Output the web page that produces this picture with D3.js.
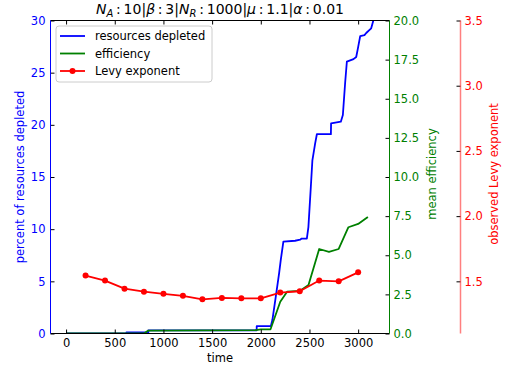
<!DOCTYPE html>
<html><head><meta charset="utf-8">
<script src="https://cdn.jsdelivr.net/npm/d3@7"></script>
<style>body{margin:0;background:#fff}svg{display:block;font-family:"DejaVu Sans",sans-serif}</style>
</head><body>
<svg id="c" width="514" height="372"></svg>
<script>
// ---- data ----
const blueTime = [0, 620, 620, 845, 845, 1958, 1958, 2103, 2119, 2154, 2188, 2205, 2232, 2352, 2404, 2420, 2473, 2489, 2514, 2530, 2558, 2576, 2720, 2722, 2822, 2843, 2867, 2884, 2952, 2980, 2997, 3021, 3065, 3083, 3117, 3134, 3162];
const blueValue = [0, 0, 0.1, 0.1, 0.3, 0.3, 0.7, 0.7, 1.29, 3.53, 5.77, 7.04, 8.8, 8.89, 8.99, 9.1, 9.1, 10.2, 14.07, 16.6, 18.2, 19.1, 19.1, 20.15, 20.3, 20.94, 24.1, 26.05, 26.3, 26.5, 27.3, 28.5, 28.6, 28.8, 29.1, 29.25, 30.2];
const greenTime = [0, 800, 845, 1950, 2000, 2100, 2200, 2270, 2400, 2490, 2600, 2700, 2800, 2900, 3000, 3100];
const greenValue = [0, 0, 0.19, 0.22, 0.27, 0.27, 2.03, 2.67, 2.72, 3.1, 5.4, 5.22, 5.4, 6.79, 7.0, 7.45];
const redTime = [200, 400, 600, 800, 1000, 1200, 1400, 1600, 1800, 2000, 2200, 2400, 2600, 2800, 3000];
const redValue = [1.544, 1.506, 1.444, 1.421, 1.404, 1.389, 1.362, 1.373, 1.370, 1.370, 1.414, 1.424, 1.506, 1.50, 1.569];
const xTicks = [0, 500, 1000, 1500, 2000, 2500, 3000];
const leftTicks = [0, 5, 10, 15, 20, 25, 30];
const greenTicks = [0, 2.5, 5, 7.5, 10, 12.5, 15, 17.5, 20];
const redTicks = [1.5, 2.0, 2.5, 3.0, 3.5];
const seriesNames = ["resources depleted", "efficiency", "Levy exponent"];

// ---- layout ----
const L = 50.5, R = 389.5, T = 20.5, B = 333.5, RED_X = 460.5;
const FS = 11.5;
const BLUE = "#0000ff", GREEN = "#008000", RED = "#ff0000";
const svg = d3.select("#c");

const x = d3.scaleLinear().domain([-160, 3322]).range([L, R]);
const yL = d3.scaleLinear().domain([0, 30]).range([B, T]);
const yG = d3.scaleLinear().domain([0, 20]).range([B, T]);
const yR = d3.scaleLinear().domain([1.1, 3.5]).range([B, T]);

svg.append("defs").append("clipPath").attr("id", "clip")
  .append("rect").attr("x", L).attr("y", T).attr("width", R - L).attr("height", B - T);

const plot = svg.append("g").attr("clip-path", "url(#clip)");
const mk = (tArr, vArr) => tArr.map((t, i) => [t, vArr[i]]);

plot.append("path").datum(mk(blueTime, blueValue))
  .attr("d", d3.line().x(d => x(d[0])).y(d => yL(d[1])))
  .attr("fill", "none").attr("stroke", BLUE).attr("stroke-width", 1.8).attr("stroke-linejoin", "round");
plot.append("path").datum(mk(greenTime, greenValue))
  .attr("d", d3.line().x(d => x(d[0])).y(d => yG(d[1])))
  .attr("fill", "none").attr("stroke", GREEN).attr("stroke-width", 1.8).attr("stroke-linejoin", "round");
const redData = mk(redTime, redValue);
plot.append("path").datum(redData)
  .attr("d", d3.line().x(d => x(d[0])).y(d => yR(d[1])))
  .attr("fill", "none").attr("stroke", RED).attr("stroke-width", 1.8).attr("stroke-linejoin", "round");
plot.selectAll("circle.r").data(redData).enter().append("circle")
  .attr("cx", d => x(d[0])).attr("cy", d => yR(d[1])).attr("r", 3).attr("fill", RED);

// ---- axes ----
function styleAxis(g, color) {
  g.select(".domain").remove();
  g.selectAll(".tick line").attr("stroke", "#000").attr("stroke-width", 1);
  g.selectAll(".tick text").attr("fill", color).attr("font-size", FS).attr("font-family", "DejaVu Sans");
}
const xb = svg.append("g").attr("transform", `translate(0,${B})`)
  .call(d3.axisBottom(x).tickValues(xTicks).tickSize(-4).tickPadding(5).tickFormat(d3.format("d")));
styleAxis(xb, "#000");
xb.selectAll(".tick text").attr("dy", "0.71em").attr("y", 5);
const xt = svg.append("g").attr("transform", `translate(0,${T})`)
  .call(d3.axisTop(x).tickValues(xTicks).tickSize(-4).tickFormat(""));
styleAxis(xt, "#000");

const al = svg.append("g").attr("transform", `translate(${L},0)`)
  .call(d3.axisLeft(yL).tickValues(leftTicks).tickSize(-4).tickPadding(5).tickFormat(d3.format("d")));
styleAxis(al, BLUE);
const ag = svg.append("g").attr("transform", `translate(${R},0)`)
  .call(d3.axisRight(yG).tickValues(greenTicks).tickSize(-4).tickPadding(4).tickFormat(d3.format(".1f")));
styleAxis(ag, GREEN);
const ar = svg.append("g").attr("transform", `translate(${RED_X},0)`)
  .call(d3.axisRight(yR).tickValues(redTicks).tickSize(4).tickPadding(0).tickFormat(d3.format(".1f")));
styleAxis(ar, RED);
ar.selectAll(".tick line").attr("x1", -4).attr("x2", 0);

// spines
svg.append("line").attr("x1", L).attr("x2", R).attr("y1", T).attr("y2", T).attr("stroke", "#000");
svg.append("line").attr("x1", L).attr("x2", R).attr("y1", B).attr("y2", B).attr("stroke", "#000");
svg.append("line").attr("x1", L).attr("x2", L).attr("y1", T).attr("y2", B).attr("stroke", BLUE);
svg.append("line").attr("x1", R).attr("x2", R).attr("y1", T).attr("y2", B).attr("stroke", GREEN);
svg.append("line").attr("x1", RED_X).attr("x2", RED_X).attr("y1", T).attr("y2", B).attr("stroke", RED).attr("stroke-opacity", 0.5).attr("stroke-width", 1.5);

// labels
const midY = (T + B) / 2;
svg.append("text").attr("x", (L + R) / 2).attr("y", 362).attr("text-anchor", "middle")
  .attr("font-size", FS).text("time");
svg.append("text").attr("transform", `translate(24,${midY}) rotate(-90)`).attr("text-anchor", "middle")
  .attr("font-size", FS).attr("fill", BLUE).text("percent of resources depleted");
svg.append("text").attr("transform", `translate(436,${midY - 3}) rotate(-90)`).attr("text-anchor", "middle")
  .attr("font-size", FS).attr("fill", GREEN).text("mean efficiency");
svg.append("text").attr("transform", `translate(498,${midY - 3}) rotate(-90)`).attr("text-anchor", "middle")
  .attr("font-size", FS).attr("fill", RED).text("observed Levy exponent");

// title
const title = svg.append("text").attr("x", (L + R) / 2).attr("y", 14).attr("text-anchor", "middle").attr("font-size", 14);
const parts = [
  ["N", "i"], ["A", "s"], ["\u2009:\u200910|", ""], ["\u03b2", "i"], ["\u2009:\u20093|", ""],
  ["N", "i"], ["R", "s"], ["\u2009:\u20091000|", ""], ["\u03bc", "i"], ["\u2009:\u20091.1|", ""],
  ["\u03b1", "i"], ["\u2009:\u20090.01", ""]
];
parts.forEach(([t, k], i) => {
  const ts = title.append("tspan").text(t);
  if (k === "i") ts.attr("font-style", "italic");
  if (k === "s") ts.attr("font-style", "italic").attr("font-size", 10).attr("dy", 3);
  if (k !== "s" && i > 0 && parts[i - 1][1] === "s") ts.attr("dy", -3);
});

// legend
const lg = svg.append("g");
lg.append("rect").attr("x", 56).attr("y", 26).attr("width", 156).attr("height", 56).attr("rx", 3)
  .attr("fill", "#fff").attr("fill-opacity", 0.8).attr("stroke", "#ccc");
const colors = [BLUE, GREEN, RED];
seriesNames.forEach((n, i) => {
  const yy = 36 + i * 17.5;
  lg.append("line").attr("x1", 60).attr("x2", 85).attr("y1", yy).attr("y2", yy)
    .attr("stroke", colors[i]).attr("stroke-width", 1.8);
  if (i === 2) lg.append("circle").attr("cx", 72.5).attr("cy", yy).attr("r", 3).attr("fill", RED);
  lg.append("text").attr("x", 95).attr("y", yy + 4).attr("font-size", FS).text(n);
});
</script>
</body></html>
